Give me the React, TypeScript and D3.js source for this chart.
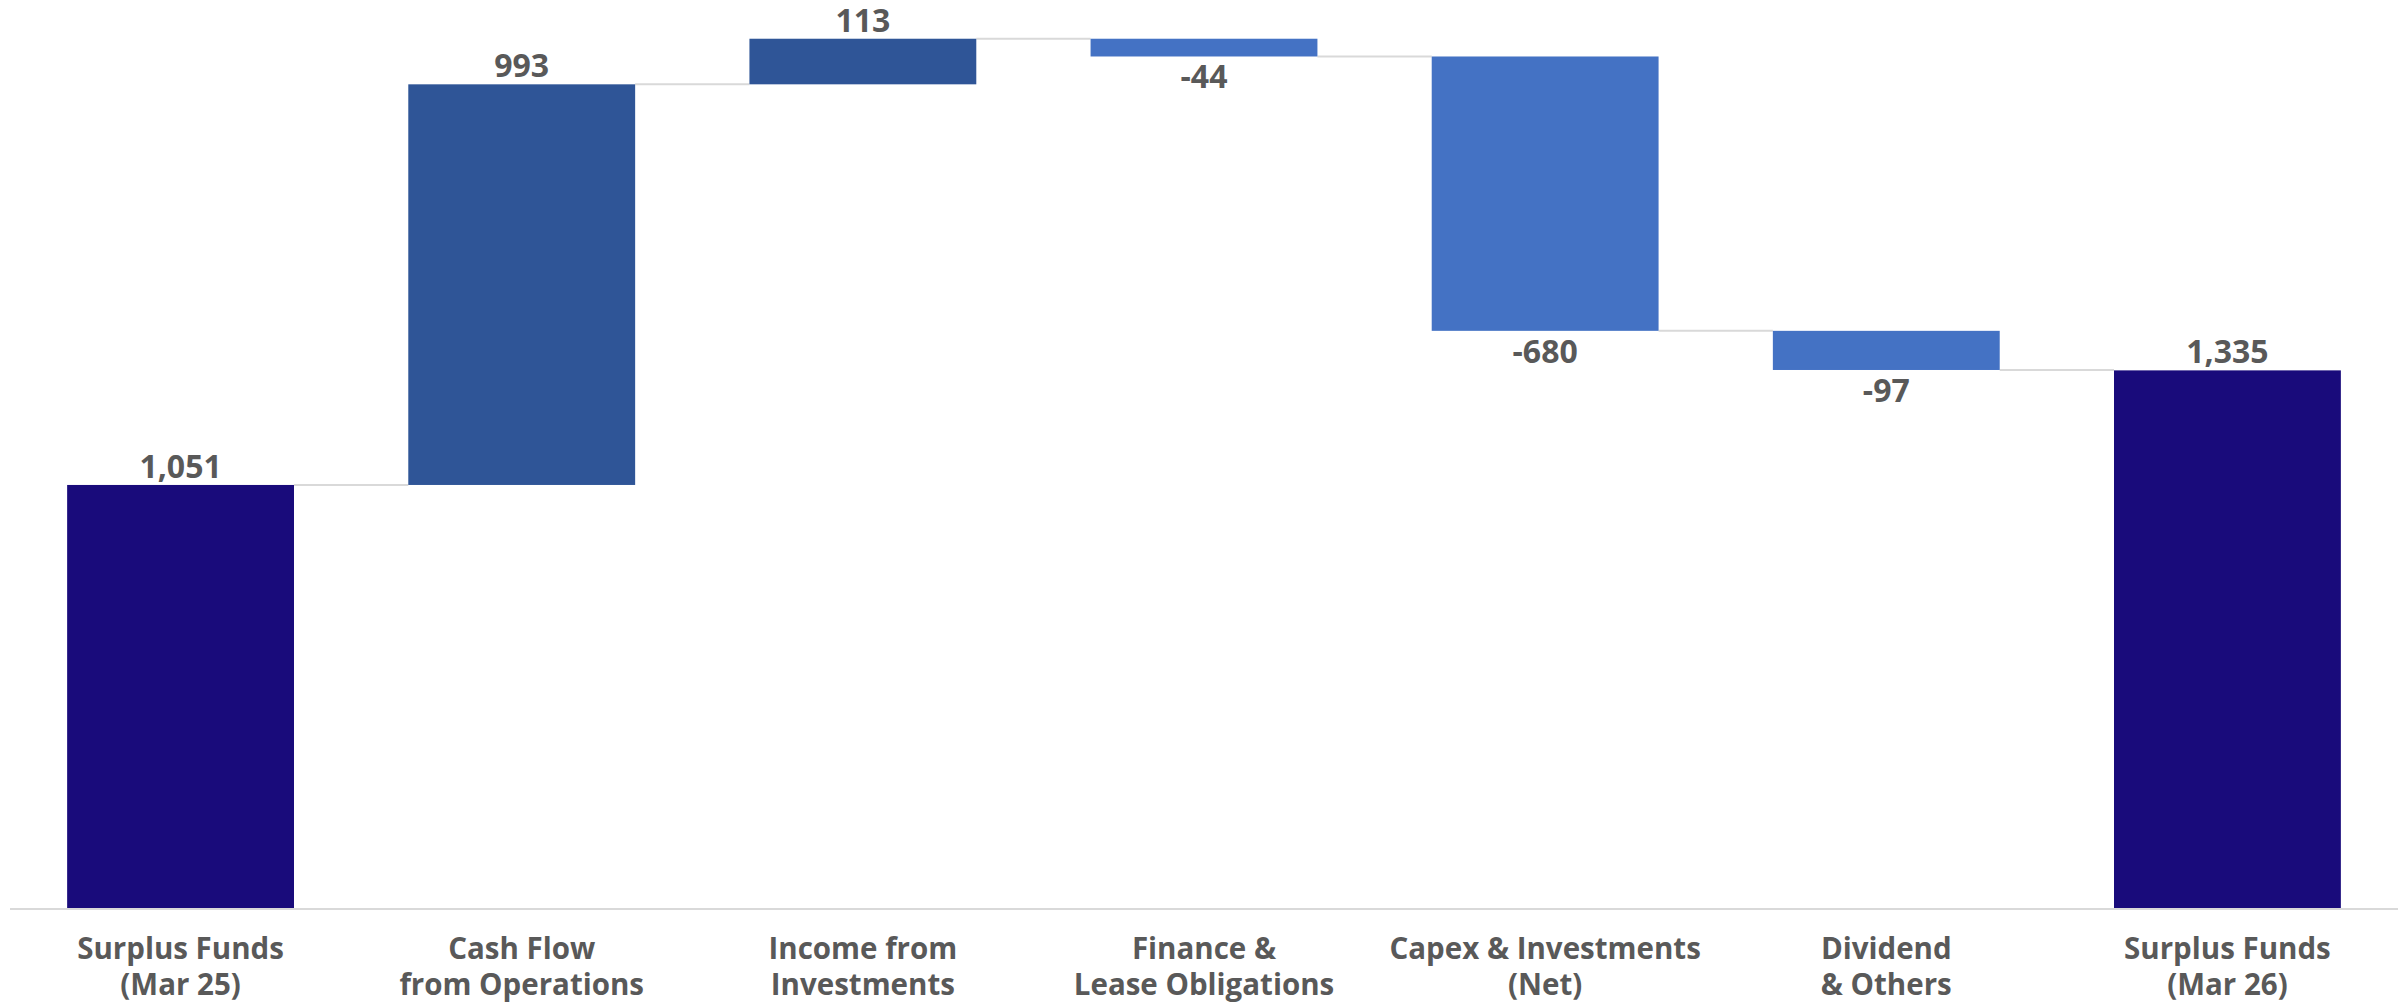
import React from "react";
import * as d3 from "d3";

const categories: string[][] = [
  ["Surplus Funds", "(Mar 25)"],
  ["Cash Flow", "from Operations"],
  ["Income from", "Investments"],
  ["Finance &", "Lease Obligations"],
  ["Capex & Investments", "(Net)"],
  ["Dividend", "& Others"],
  ["Surplus Funds", "(Mar 26)"],
];
const values: number[] = [1051, 993, 113, -44, -680, -97, 1335];
const kinds: string[] = ["total", "delta", "delta", "delta", "delta", "delta", "total"];
const labels: string[] = ["1,051", "993", "113", "-44", "-680", "-97", "1,335"];

const W = 2407;
const H = 1005;
const axisY = 909;
const COLORS = { total: "#190B7B", pos: "#2F5597", neg: "#4472C4" };

export default function App() {
  const x = d3
    .scaleBand<number>()
    .domain(d3.range(values.length))
    .range([10, 2398])
    .paddingInner(0.335)
    .paddingOuter(0.1675);
  const y = d3.scaleLinear().domain([0, 2253]).range([axisY, 0]);

  let cum = 0;
  const bars = values.map((v, i) => {
    let start: number, end: number;
    if (kinds[i] === "total") {
      start = 0;
      end = v;
      cum = v;
    } else {
      start = cum;
      end = cum + v;
      cum = end;
    }
    return { i, v, start, end, level: end };
  });

  const bw = x.bandwidth();
  const font = "'Open Sans', 'Noto Sans', sans-serif";

  return (
    <svg
      width={W}
      height={H}
      style={{ position: "absolute", left: 0, top: 0, background: "#fff" }}
    >
      {bars.slice(0, -1).map((b, k) => {
        const x1 = (x(b.i) as number) + bw;
        const x2 = x(b.i + 1) as number;
        const yy = y(b.level);
        return (
          <line key={"c" + k} x1={x1} x2={x2} y1={yy} y2={yy} stroke="#D9D9D9" strokeWidth={2} />
        );
      })}
      {bars.map((b) => {
        const top = y(Math.max(b.start, b.end));
        const bot = y(Math.min(b.start, b.end));
        const fill =
          kinds[b.i] === "total" ? COLORS.total : b.v >= 0 ? COLORS.pos : COLORS.neg;
        return (
          <rect key={"b" + b.i} x={x(b.i)} y={top} width={bw} height={bot - top} fill={fill} />
        );
      })}
      <line x1={10} x2={2398} y1={axisY} y2={axisY} stroke="#D9D9D9" strokeWidth={2} />
      {bars.map((b) => {
        const cx = (x(b.i) as number) + bw / 2;
        const neg = kinds[b.i] !== "total" && b.v < 0;
        const yy = neg ? y(b.end) + 32 : y(Math.max(b.start, b.end)) - 7;
        return (
          <text
            key={"l" + b.i}
            x={cx}
            y={yy}
            textAnchor="middle"
            fontFamily={font}
            fontWeight={700}
            fontSize={32}
            fill="#595959"
          >
            {labels[b.i]}
          </text>
        );
      })}
      {categories.map((lines, i) => {
        const cx = (x(i) as number) + bw / 2;
        return (
          <text
            key={"t" + i}
            textAnchor="middle"
            fontFamily={font}
            fontWeight={700}
            fontSize={29.5}
            fill="#595959"
          >
            {lines.map((ln, j) => (
              <tspan key={j} x={cx} y={959 + j * 36}>
                {ln}
              </tspan>
            ))}
          </text>
        );
      })}
    </svg>
  );
}
